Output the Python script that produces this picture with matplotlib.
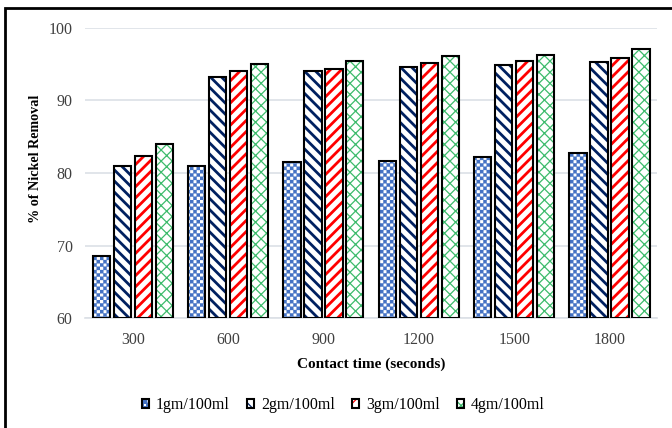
import warnings
import numpy as np
import matplotlib
matplotlib.use("Agg")
import matplotlib.pyplot as plt
import matplotlib.hatch as mhatch
from matplotlib.path import Path
from matplotlib.patches import Rectangle
from matplotlib.legend_handler import HandlerTuple

warnings.filterwarnings("ignore")

# data
contact_times = ["300", "600", "900", "1200", "1500", "1800"]
dose_labels = ["1gm/100ml", "2gm/100ml", "3gm/100ml", "4gm/100ml"]
removal_1gm = [68.5, 80.9, 81.5, 81.7, 82.2, 82.7]
removal_2gm = [81.0, 93.3, 94.0, 94.6, 94.9, 95.3]
removal_3gm = [82.3, 94.1, 94.3, 95.2, 95.5, 95.9]
removal_4gm = [84.0, 95.1, 95.5, 96.1, 96.3, 97.1]

series = [removal_1gm, removal_2gm, removal_3gm, removal_4gm]
hatch_colors = ["#4472C4", "#002060", "#FF0000", "#3DBB6C"]
hatches = ["c", "\\\\\\", "///", "xxx"]
hatch_widths = [0.2, 2.0, 2.0, 0.9]


# small checkerboard hatch ('c'), like the Excel pattern fill
class CheckerHatch(mhatch.HatchPatternBase):
    def __init__(self, hatch, density):
        self.num_cells = 30 * hatch.count("c")
        self.num_vertices = (self.num_cells ** 2 // 2) * 5

    def set_vertices_and_codes(self, vertices, codes):
        s = 1.0 / self.num_cells
        square = np.array([[0, 0], [s, 0], [s, s], [0, s], [0, 0]])
        sq_codes = [Path.MOVETO, Path.LINETO, Path.LINETO, Path.LINETO, Path.CLOSEPOLY]
        k = 0
        for i in range(self.num_cells):
            for j in range(self.num_cells):
                if (i + j) % 2 == 0:
                    vertices[k:k + 5] = square + [i * s, j * s]
                    codes[k:k + 5] = sq_codes
                    k += 5


mhatch._hatch_types.append(CheckerHatch)

plt.rcParams["font.family"] = ["Liberation Serif", "DejaVu Serif"]

fig = plt.figure(figsize=(6.72, 4.28), dpi=100)
ax = fig.add_axes([0.1265, 0.257, 0.8515, 0.6776])

x = np.arange(len(contact_times))
pitch = 0.22
width = 0.18
handles = []
for i, vals in enumerate(series):
    pos = x + (i - 1.5) * pitch
    plt.rcParams["hatch.linewidth"] = hatch_widths[i]
    hb = ax.bar(pos, np.array(vals) - 60, width, bottom=60, color="white",
                edgecolor=hatch_colors[i], hatch=hatches[i], linewidth=0, zorder=2)
    ob = ax.bar(pos, np.array(vals) - 60, width, bottom=60, facecolor="none",
                edgecolor="black", linewidth=1.5, zorder=3)
    handles.append((hb[0], ob[0]))

ax.set_ylim(60, 100)
ax.set_xlim(-0.5, len(contact_times) - 0.5)
ax.set_yticks([60, 70, 80, 90, 100])
ax.set_xticks(x)
ax.set_xticklabels(contact_times)
ax.tick_params(axis="both", length=0, labelsize=11.5, labelcolor="#404040")
ax.tick_params(axis="y", pad=9)
ax.tick_params(axis="x", pad=10)
ax.yaxis.grid(True, color="#DCE0E6", linewidth=1.2, zorder=0)
ax.set_axisbelow(True)
for side in ["top", "right", "left"]:
    ax.spines[side].set_visible(False)
ax.spines["bottom"].set_color("#DCE0E6")
ax.spines["bottom"].set_linewidth(1.2)

ax.set_xlabel("Contact time (seconds)", fontsize=11, fontweight="bold", labelpad=7)
ax.set_ylabel("% of Nickel Removal", fontsize=10.2, fontweight="bold")
ax.yaxis.set_label_coords(-0.075, 0.55)

leg = fig.legend(handles, dose_labels, loc="center", bbox_to_anchor=(0.511, 0.053),
                 ncol=4, frameon=False, fontsize=11.5, handlelength=0.45, handleheight=0.45,
                 handletextpad=0.4, columnspacing=1.1,
                 handler_map={tuple: HandlerTuple(ndivide=1)})

# outer frame (only left/top edges fall inside the image)
fig.add_artist(Rectangle((5 / 672, -0.1), 1.2, 1.1 - 8 / 428,
                         transform=fig.transFigure, fill=False,
                         edgecolor="black", linewidth=2))

fig.savefig("out.png", dpi=100)
